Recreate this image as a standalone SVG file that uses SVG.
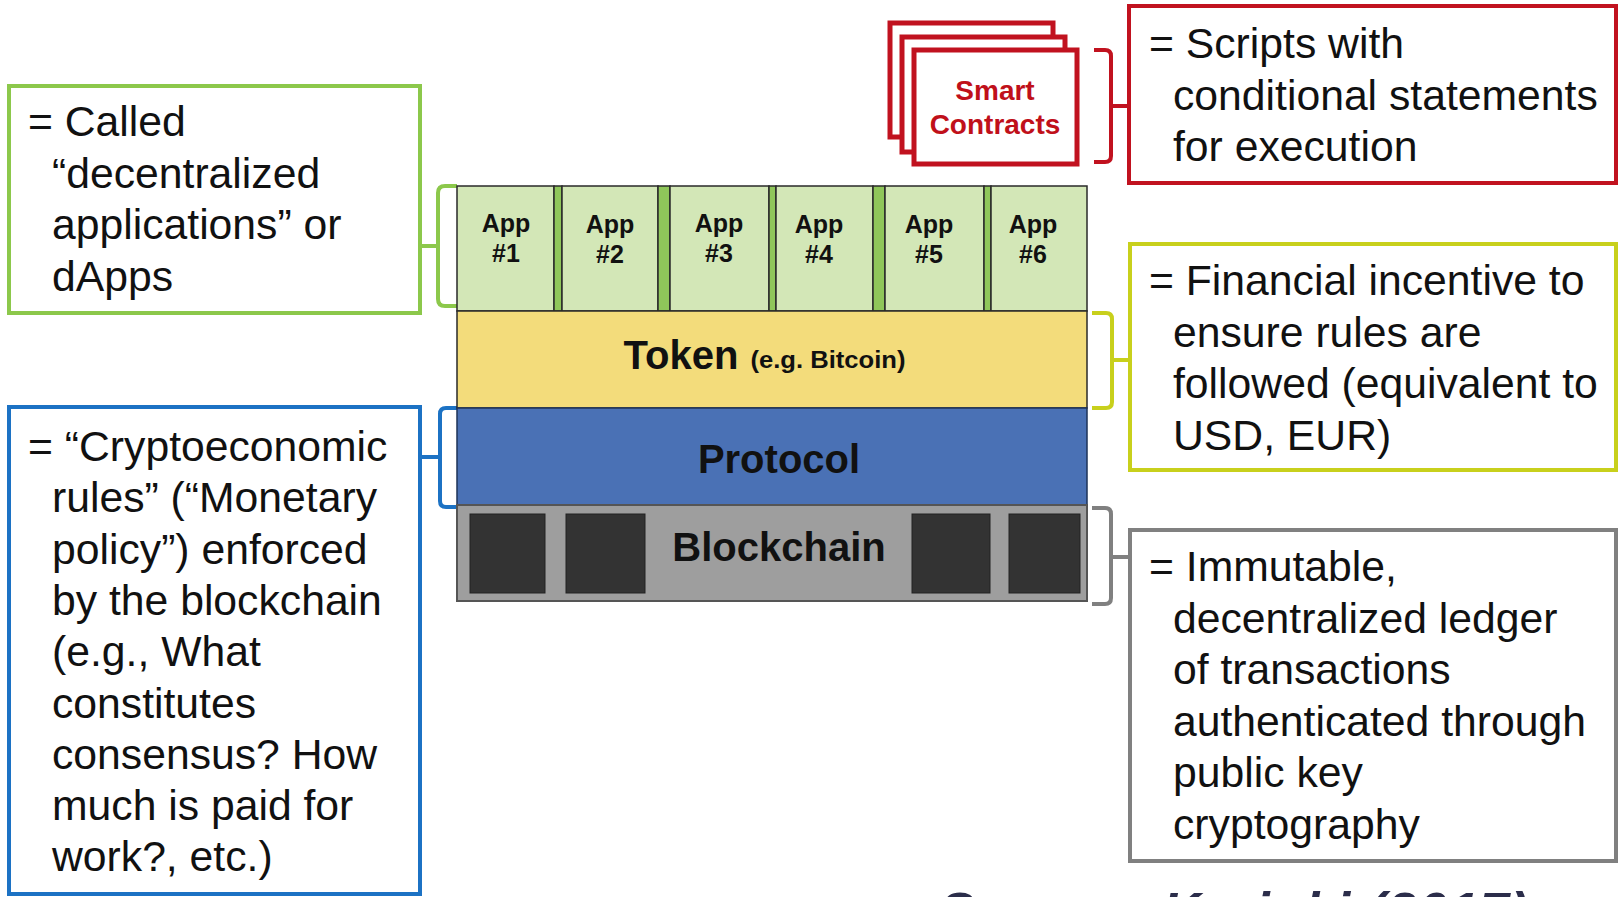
<svg xmlns="http://www.w3.org/2000/svg" width="1619" height="897" viewBox="0 0 1619 897">
<defs>
<style>
.body{font-family:"Liberation Sans",Arial,sans-serif;font-size:42.7px;fill:#111}
.lbl{font-family:"Liberation Sans",Arial,sans-serif;font-weight:bold;fill:#111;text-anchor:middle}
.app{font-size:25px}
.cell{fill:#d3e7b7;stroke:#2a2a2a;stroke-width:1.5}
.sep{fill:#8fc65a;stroke:#2a2a2a;stroke-width:1.5}
.blk{fill:#333;stroke:#222;stroke-width:1}
.brk{fill:none;stroke-width:4;stroke-linecap:butt;stroke-linejoin:round}
.box{fill:#fff;stroke-width:4}
.sc{fill:#fff;stroke:#c1121f;stroke-width:5}
</style>
</defs>
<rect width="1619" height="897" fill="#fff"/>

<g id="connectors">
<path class="brk" stroke="#8cc84b" d="M457,186 H445 Q438,186 438,193 V299 Q438,306 445,306 H457 M420,246 H438"/>
<path class="brk" stroke="#1c72c4" d="M457,408 H446 Q440,408 440,414 V501 Q440,507 446,507 H457 M420,457 H440"/>
<path class="brk" stroke="#c1121f" d="M1094,50 H1105 Q1111,50 1111,56 V156 Q1111,162 1105,162 H1094 M1111,106 H1129"/>
<path class="brk" stroke="#c8d01c" d="M1092,313 H1106 Q1112,313 1112,319 V402 Q1112,408 1106,408 H1092 M1112,360 H1130"/>
<path class="brk" stroke="#808080" d="M1092,508 H1105 Q1111,508 1111,514 V598 Q1111,604 1105,604 H1092 M1111,557 H1130"/>
</g>

<g id="apps">
<rect class="cell" x="457" y="186" width="97" height="125"/>
<rect class="sep" x="554" y="186" width="8" height="125"/>
<rect class="cell" x="562" y="186" width="96" height="125"/>
<rect class="sep" x="658" y="186" width="12" height="125"/>
<rect class="cell" x="670" y="186" width="99" height="125"/>
<rect class="sep" x="769" y="186" width="7" height="125"/>
<rect class="cell" x="776" y="186" width="97" height="125"/>
<rect class="sep" x="873" y="186" width="12" height="125"/>
<rect class="cell" x="885" y="186" width="99" height="125"/>
<rect class="sep" x="984" y="186" width="7" height="125"/>
<rect class="cell" x="991" y="186" width="96" height="125"/>
<text class="lbl app" x="506" y="232">App</text><text class="lbl app" x="506" y="262">#1</text>
<text class="lbl app" x="610" y="233">App</text><text class="lbl app" x="610" y="263">#2</text>
<text class="lbl app" x="719" y="232">App</text><text class="lbl app" x="719" y="262">#3</text>
<text class="lbl app" x="819" y="233">App</text><text class="lbl app" x="819" y="263">#4</text>
<text class="lbl app" x="929" y="233">App</text><text class="lbl app" x="929" y="263">#5</text>
<text class="lbl app" x="1033" y="233">App</text><text class="lbl app" x="1033" y="263">#6</text>
</g>

<g id="token">
<rect x="457" y="311" width="630" height="97" fill="#f3dc7b" stroke="#2a2a2a" stroke-width="1.5"/>
<text class="lbl" x="681" y="369" font-size="40" textLength="115" lengthAdjust="spacingAndGlyphs">Token</text>
<text class="lbl" x="828" y="368" font-size="24" textLength="155" lengthAdjust="spacingAndGlyphs">(e.g. Bitcoin)</text>
</g>

<g id="protocol">
<rect x="457" y="408" width="630" height="97" fill="#4a71b5" stroke="#1e3358" stroke-width="1.5"/>
<text class="lbl" x="779" y="473" font-size="40">Protocol</text>
</g>

<g id="blockchain">
<rect x="457" y="505" width="630" height="96" fill="#9e9e9e" stroke="#555" stroke-width="2"/>
<rect class="blk" x="470" y="514" width="75" height="79"/>
<rect class="blk" x="566" y="514" width="79" height="79"/>
<rect class="blk" x="912" y="514" width="78" height="79"/>
<rect class="blk" x="1009" y="514" width="71" height="79"/>
<text class="lbl" x="779" y="561" font-size="40">Blockchain</text>
</g>

<g id="smart-contracts">
<rect class="sc" x="890" y="23" width="163" height="114"/>
<rect class="sc" x="902" y="37" width="163" height="115"/>
<rect class="sc" x="914" y="50" width="163" height="114"/>
<text class="lbl" x="995" y="100" font-size="28" style="fill:#c0101a">Smart</text>
<text class="lbl" x="995" y="134" font-size="28" style="fill:#c0101a">Contracts</text>
</g>

<g id="dapps-note">
<rect class="box" x="9" y="86" width="411" height="227" stroke="#8cc84b"/>
<text class="body"><tspan x="28" y="136">= Called</tspan><tspan x="52" y="187.5">“decentralized</tspan><tspan x="52" y="239">applications” or</tspan><tspan x="52" y="290.5">dApps</tspan></text>
</g>

<g id="protocol-note">
<rect class="box" x="9" y="407" width="411" height="487" stroke="#1c72c4"/>
<text class="body"><tspan x="28" y="461">= “Cryptoeconomic</tspan><tspan x="52" y="512.3">rules” (“Monetary</tspan><tspan x="52" y="563.6">policy”) enforced</tspan><tspan x="52" y="614.9">by the blockchain</tspan><tspan x="52" y="666.2">(e.g., What</tspan><tspan x="52" y="717.5">constitutes</tspan><tspan x="52" y="768.8">consensus? How</tspan><tspan x="52" y="820.1">much is paid for</tspan><tspan x="52" y="871.4">work?, etc.)</tspan></text>
</g>

<g id="smart-note">
<rect class="box" x="1129" y="6" width="487" height="177" stroke="#c1121f"/>
<text class="body"><tspan x="1149" y="58">= Scripts with</tspan><tspan x="1173" y="109.5">conditional statements</tspan><tspan x="1173" y="161">for execution</tspan></text>
</g>

<g id="token-note">
<rect class="box" x="1130" y="244" width="486" height="226" stroke="#c8d01c"/>
<text class="body"><tspan x="1149" y="295">= Financial incentive to</tspan><tspan x="1173" y="346.5">ensure rules are</tspan><tspan x="1173" y="398">followed (equivalent to</tspan><tspan x="1173" y="449.5">USD, EUR)</tspan></text>
</g>

<g id="blockchain-note">
<rect class="box" x="1130" y="530" width="486" height="331" stroke="#808080"/>
<text class="body"><tspan x="1149" y="581">= Immutable,</tspan><tspan x="1173" y="632.5">decentralized ledger</tspan><tspan x="1173" y="684">of transactions</tspan><tspan x="1173" y="735.5">authenticated through</tspan><tspan x="1173" y="787">public key</tspan><tspan x="1173" y="838.5">cryptography</tspan></text>
</g>

<g id="source">
<text x="940" y="929" font-family="'Liberation Sans',Arial,sans-serif" font-weight="bold" font-style="italic" font-size="52" fill="#2b2d4a" textLength="588" lengthAdjust="spacing">Source: Kariuki (2017)</text>
</g>
</svg>
